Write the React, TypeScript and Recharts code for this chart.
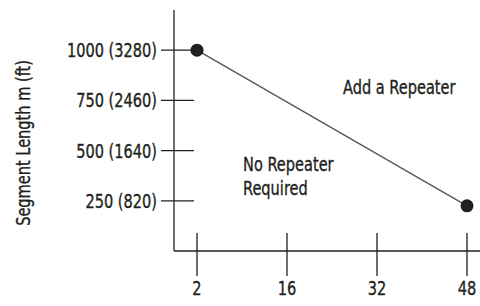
import React from 'react';
import { LineChart, Line, XAxis, YAxis, Customized } from 'recharts';

const distances = ['2', '16', '32', '48'];
const segmentLength = [1000, null, null, 225];
const yTicks = [250, 500, 750, 1000];
const yTickLabels = ['250 (820)', '500 (1640)', '750 (2460)', '1000 (3280)'];

const data = distances.map((d, i) => ({ name: d, len: segmentLength[i] }));

const FONT = "'DejaVu Sans Condensed', 'DejaVu Sans', sans-serif";
const INK = '#231f20';
const SQUEEZE = 0.81;

// condensed text: the installed fonts are all too wide, so squeeze horizontally
const Narrow = ({ x, y, anchor = 'start', rotate = 0, children }: any) => (
  <g transform={`translate(${x} ${y}) rotate(${rotate}) scale(${SQUEEZE} 1)`}>
    <text
      x={0}
      y={0}
      textAnchor={anchor}
      fontSize={20}
      fill={INK}
      stroke={INK}
      strokeWidth={0.35}
      fontFamily={FONT}
    >
      {children}
    </text>
  </g>
);

const XTick = (props: any) => {
  const { x, y, payload } = props;
  return (
    <g>
      <line x1={x} x2={x} y1={y - 18} y2={y + 25} stroke={INK} strokeWidth={1.3} />
      <Narrow x={x} y={y + 44} anchor="middle">
        {payload.value}
      </Narrow>
    </g>
  );
};

const YTick = (props: any) => {
  const { x, y, payload } = props;
  const label = yTickLabels[yTicks.indexOf(payload.value)];
  return (
    <g>
      <line x1={x - 13} x2={x + 20} y1={y} y2={y} stroke={INK} strokeWidth={1.3} />
      <Narrow x={x - 17} y={y + 7} anchor="end">
        {label}
      </Narrow>
    </g>
  );
};

const Notes = () => (
  <g>
    <Narrow x={343} y={94}>Add a Repeater</Narrow>
    <Narrow x={243} y={171}>No Repeater</Narrow>
    <Narrow x={243} y={195}>Required</Narrow>
    <Narrow x={30} y={143} anchor="middle" rotate={-90}>
      Segment Length m (ft)
    </Narrow>
  </g>
);

export default function App() {
  return (
    <div style={{ position: 'absolute', left: 0, top: 0, background: '#fff' }}>
      <LineChart
        width={480}
        height={306}
        data={data}
        margin={{ top: 10, right: 0, bottom: 25, left: 0 }}
      >
        <XAxis
          dataKey="name"
          type="category"
          height={30}
          padding={{ left: 23, right: 13 }}
          axisLine={{ stroke: INK, strokeWidth: 1.3 }}
          tickLine={false}
          tickSize={0}
          tickMargin={0}
          tick={<XTick />}
          interval={0}
        />
        <YAxis
          width={174}
          type="number"
          domain={[0, 1200]}
          ticks={yTicks}
          axisLine={{ stroke: INK, strokeWidth: 1.3 }}
          tickLine={false}
          tickSize={0}
          tickMargin={0}
          tick={<YTick />}
          interval={0}
        />
        <Line
          dataKey="len"
          type="linear"
          stroke="#555"
          strokeWidth={1.3}
          connectNulls
          dot={{ r: 6.5, fill: INK, stroke: INK, strokeWidth: 0 }}
          isAnimationActive={false}
        />
        <Customized component={Notes} />
      </LineChart>
    </div>
  );
}
